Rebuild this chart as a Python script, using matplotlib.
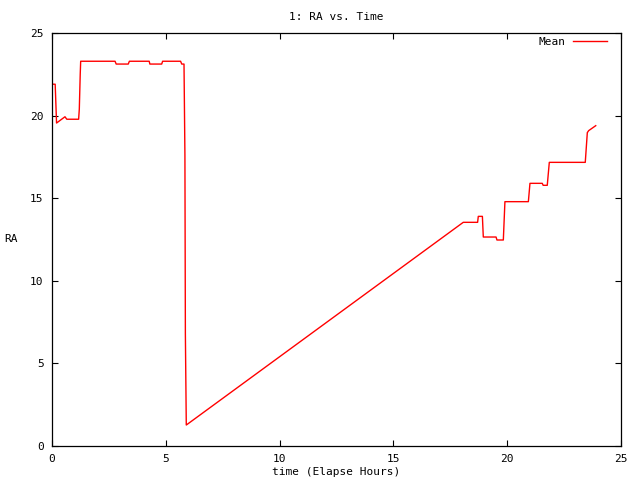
import matplotlib
matplotlib.use("Agg")
import matplotlib.pyplot as plt

# RA mean vs elapsed time
time_h = [0.00, 0.14, 0.20, 0.57, 0.65, 1.17, 1.20, 1.24, 1.26,
          2.77, 2.82, 3.35, 3.40, 4.27, 4.30, 4.82, 4.86, 5.65, 5.70,
          5.80, 5.84, 5.86, 5.90,
          18.07, 18.70, 18.73, 18.91, 18.95, 19.51, 19.55, 19.83, 19.90,
          20.93, 21.00, 21.54, 21.58, 21.76, 21.85, 23.43, 23.52, 23.58, 23.89]
ra_mean = [21.90, 21.90, 19.55, 19.93, 19.78, 19.78, 20.40, 22.50, 23.29,
           23.29, 23.12, 23.12, 23.29, 23.29, 23.12, 23.12, 23.29, 23.29, 23.12,
           23.12, 17.60, 6.80, 1.27,
           13.54, 13.54, 13.90, 13.90, 12.65, 12.65, 12.47, 12.47, 14.79,
           14.79, 15.90, 15.90, 15.78, 15.78, 17.17, 17.17, 18.97, 19.09, 19.39]

x_ticks = [0, 5, 10, 15, 20, 25]
y_ticks = [0, 5, 10, 15, 20, 25]

FONT = "DejaVu Sans Mono"
FS = 8

fig = plt.figure(figsize=(6.4, 4.8), dpi=100)
ax = fig.add_axes([52 / 640, 1 - 446 / 480, 569 / 640, 413 / 480])

ax.plot(time_h, ra_mean, color="red", lw=1.0, label="Mean")
ax.set_xlim(0, 25)
ax.set_ylim(0, 25)
ax.set_xticks(x_ticks)
ax.set_yticks(y_ticks)
ax.tick_params(direction="in", length=4, width=0.8, top=True, right=True,
               labelsize=FS, pad=6)
for lab in ax.get_xticklabels() + ax.get_yticklabels():
    lab.set_family(FONT)
for s in ax.spines.values():
    s.set_linewidth(0.9)

ax.set_title("1: RA vs. Time", family=FONT, fontsize=FS, pad=9)
ax.set_xlabel("time (Elapse Hours)", family=FONT, fontsize=FS, labelpad=2)
ax.set_ylabel("RA", family=FONT, fontsize=FS, rotation=0, labelpad=14, va="center")

leg = ax.legend(loc="upper right", bbox_to_anchor=(0.9754, 0.9915), frameon=False,
                markerfirst=False, prop={"family": FONT, "size": FS},
                handlelength=3.05, handletextpad=0.72, borderaxespad=0, borderpad=0)

fig.savefig("out.png", dpi=100)
